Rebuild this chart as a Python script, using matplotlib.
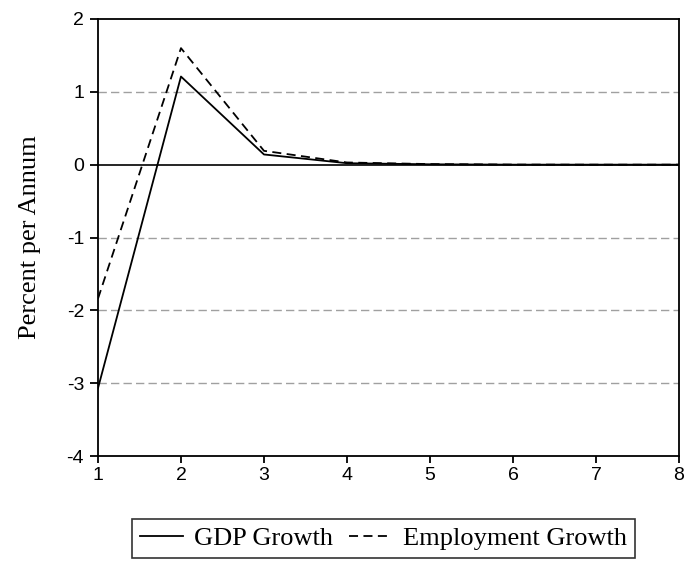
import matplotlib
matplotlib.use('Agg')
import matplotlib.pyplot as plt

plt.rcParams['font.family'] = ['Liberation Sans', 'DejaVu Sans']
plt.rcParams['axes.unicode_minus'] = False

periods = [1, 2, 3, 4, 5, 6, 7, 8]
gdp_growth = [-3.07, 1.21, 0.14, 0.02, 0.005, 0.0, 0.0, 0.0]
emp_growth = [-1.84, 1.60, 0.19, 0.03, 0.008, 0.001, 0.0, 0.0]
y_ticks = [-4, -3, -2, -1, 0, 1, 2]

fig = plt.figure(figsize=(6.88, 5.62), dpi=100)
ax = fig.add_axes([0.1424, 0.1886, 0.8445, 0.7776])

# grid lines (dashed gray), solid zero line
for y in y_ticks:
    if y in (-4, 2):
        continue
    if y == 0:
        ax.axhline(0, color='black', lw=1.2, zorder=1)
    else:
        ax.axhline(y, color='#a0a0a0', lw=1.0, ls=(0, (6, 3)), zorder=1)

ax.plot(periods, gdp_growth, color='black', lw=1.3, label='GDP Growth', zorder=3)
ax.plot(periods, emp_growth, color='black', lw=1.3, ls=(0, (5, 3)),
        label='Employment Growth', zorder=3)

ax.set_xlim(1, 8)
ax.set_ylim(-4, 2)
ax.set_xticks(periods)
ax.set_yticks(y_ticks)
for s in ax.spines.values():
    s.set_linewidth(1.3)
ax.tick_params(direction='out', width=1.3, labelsize=14, top=False, right=False)
ax.tick_params(axis='y', length=6, pad=4)
ax.tick_params(axis='x', length=5, pad=3)

ax.set_ylabel('Percent per Annum', family='Liberation Serif', fontsize=19)
ax.yaxis.set_label_coords(-0.098, 0.5)

leg = fig.legend(loc='lower center', bbox_to_anchor=(0.558, 0.007), ncol=2,
                 prop={'family': 'Liberation Serif', 'size': 19},
                 frameon=True, fancybox=False, edgecolor='black',
                 handlelength=1.6, columnspacing=0.6, handletextpad=0.45,
                 borderpad=0.3, borderaxespad=0.0)
leg.get_frame().set_linewidth(1.2)

fig.savefig('out.png', dpi=100)
